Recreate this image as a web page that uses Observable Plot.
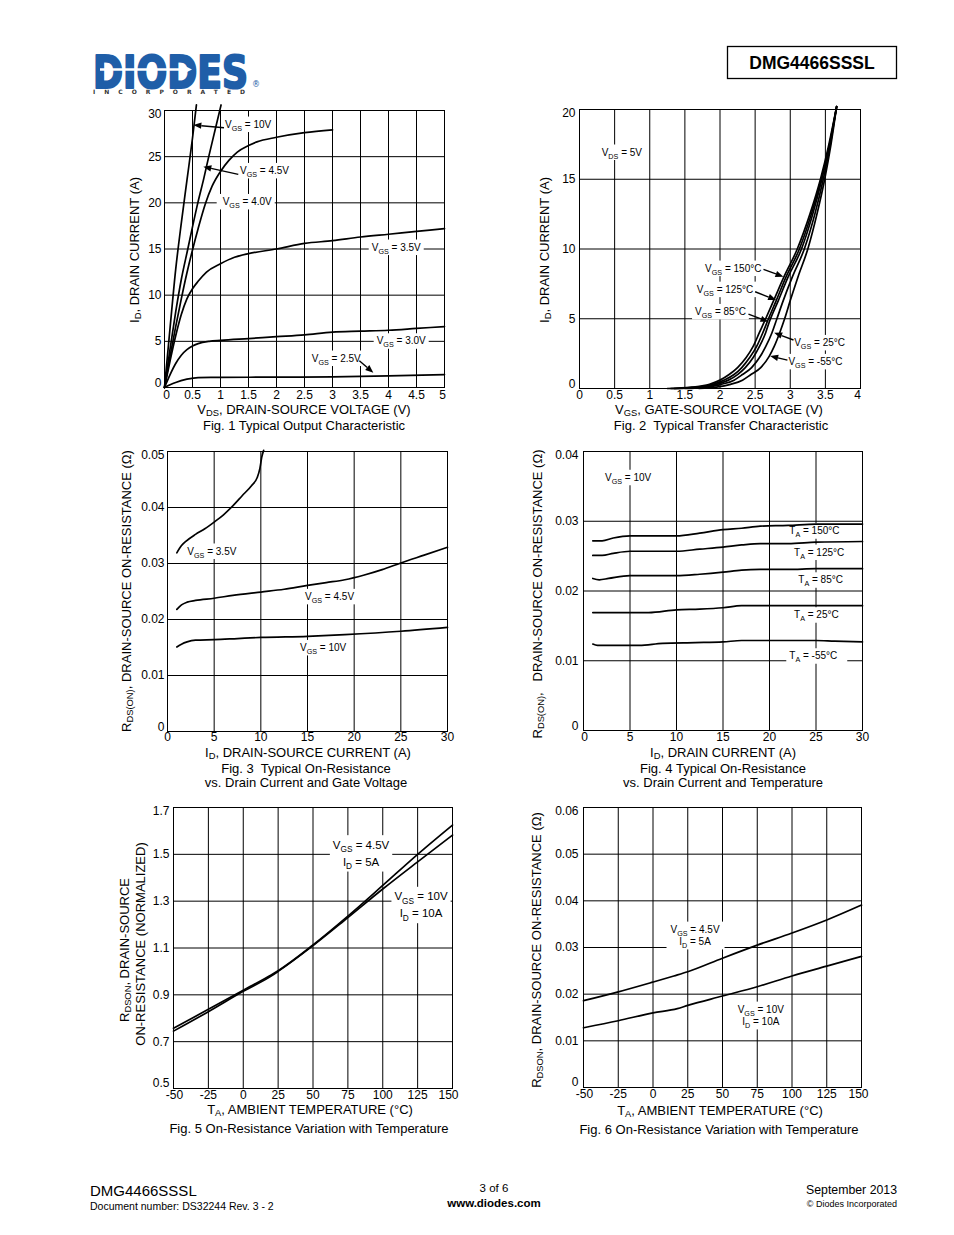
<!DOCTYPE html>
<html><head><meta charset="utf-8">
<script src="https://cdn.jsdelivr.net/npm/d3@7"></script>
<script src="https://cdn.jsdelivr.net/npm/@observablehq/plot@0.6"></script>
<style>
body{margin:0;background:#fff;}
#page{position:relative;width:954px;height:1235px;font-family:"Liberation Sans",Arial,Helvetica,sans-serif;color:#000;overflow:hidden;background:#fff}
.t{position:absolute;white-space:nowrap;line-height:1}
.t sub{font-size:0.72em;vertical-align:-0.3em;line-height:0}
</style></head><body><div id="page">
<svg style="position:absolute;left:86px;top:30px" width="240" height="72">
  <text x="7" y="58" font-family="DejaVu Sans" font-weight="bold" font-size="45" fill="#1f5ea8" stroke="#1f5ea8" stroke-width="2.2" stroke-linejoin="round" textLength="155" lengthAdjust="spacingAndGlyphs">DIODES</text>
  <line x1="14" y1="39.5" x2="98" y2="39.5" stroke="#fff" stroke-width="2.4"/>
  <path d="M98,35.5 L106,39.5 L98,43.5 Z" fill="#fff"/>
  <text x="7" y="64" font-family="DejaVu Sans" font-weight="bold" font-size="6" fill="#333" textLength="152" lengthAdjust="spacing">INCORPORATED</text>
  <text x="166" y="57" font-family="DejaVu Sans" font-size="8" fill="#1f5ea8">®</text>
</svg>
<svg style="position:absolute;left:726px;top:45px" width="172" height="35">
  <rect x="1.5" y="1.5" width="169" height="32" fill="#fff" stroke="#000" stroke-width="1.3"/>
  <text x="86" y="23.5" text-anchor="middle" font-family="Liberation Sans, Arial" font-weight="bold" font-size="17.5">DMG4466SSSL</text>
</svg>
</div>
<script>
// ---------------- DATA ----------------
// Fig. 1  Typical Output Characteristic  [VDS (V), ID (A)]
const f1_xTicks = [0,0.5,1,1.5,2,2.5,3,3.5,4,4.5,5];
const f1_yTicks = [0,5,10,15,20,25,30];
const f1_vgs10 = [[0,0],[0.1,6.5],[0.2,12.8],[0.3,17.8],[0.4,22.4],[0.5,27],[0.57,30.6]];
const f1_vgs45 = [[0,0],[0.1,4.2],[0.2,8.2],[0.3,11.7],[0.416,15],[0.5,17.4],[0.595,20],[0.7,22.6],[0.79,25],[0.9,27.8],[1.01,30.6]];
const f1_vgs40 = [[0,0],[0.1,3.4],[0.2,6.6],[0.3,9.6],[0.4,12.4],[0.5,14.9],[0.6,17.2],[0.73,19.9],[0.85,21.8],[1.0,23.4],[1.15,24.6],[1.3,25.5],[1.5,26.2],[1.65,26.6],[2.0,27.1],[2.5,27.6],[3.0,27.9]];
const f1_vgs35 = [[0,0],[0.1,2.9],[0.2,5.6],[0.3,7.9],[0.4,9.6],[0.5,10.7],[0.6,11.5],[0.75,12.5],[1.0,13.4],[1.25,14.1],[1.5,14.5],[2,15.0],[2.5,15.6],[3,15.9],[3.5,16.3],[4,16.6],[4.5,16.9],[5,17.2]];
const f1_vgs30 = [[0,0],[0.1,1.4],[0.2,2.6],[0.3,3.5],[0.4,4.1],[0.5,4.5],[0.6,4.75],[0.8,5.0],[1,5.1],[1.5,5.3],[2,5.5],[2.5,5.7],[3,6.0],[3.5,6.1],[4,6.2],[4.5,6.4],[5,6.6]];
const f1_vgs25 = [[0,0],[0.1,0.3],[0.2,0.55],[0.4,0.9],[0.6,1.08],[1,1.1],[2,1.12],[3,1.15],[4,1.25],[5,1.4]];

// Fig. 2  Typical Transfer Characteristic  [VGS (V), ID (A)]
const f2_xTicks = [0,0.5,1,1.5,2,2.5,3,3.5,4];
const f2_yTicks = [0,5,10,15,20];
const f2_t150 = [[1.25,0],[1.6,0.1],[1.85,0.3],[2.0,0.6],[2.13,1.0],[2.25,1.5],[2.37,2.2],[2.47,3.0],[2.56,4.0],[2.65,5.0],[2.78,6.5],[2.91,8.0],[3.1,10],[3.28,12.5],[3.43,15],[3.55,17.5],[3.66,20.2]];
const f2_t125 = [[1.3,0],[1.65,0.1],[1.9,0.3],[2.06,0.6],[2.2,1.0],[2.31,1.5],[2.42,2.2],[2.52,3.0],[2.61,4.0],[2.69,5.0],[2.8,6.3],[2.94,8],[3.13,10],[3.3,12.5],[3.44,15],[3.56,17.5],[3.66,20.2]];
const f2_t85 = [[1.35,0],[1.7,0.1],[1.95,0.3],[2.12,0.6],[2.25,1.0],[2.36,1.5],[2.47,2.2],[2.56,3.0],[2.65,4.0],[2.7,4.75],[2.83,6.3],[2.97,8],[3.16,10],[3.32,12.5],[3.45,15],[3.56,17.5],[3.66,20.2]];
const f2_t25 = [[1.5,0],[1.8,0.1],[2.02,0.3],[2.2,0.6],[2.32,1.0],[2.45,1.5],[2.56,2.2],[2.65,3.0],[2.74,4.0],[2.81,5],[2.9,6.3],[3.03,8],[3.2,10],[3.35,12.5],[3.47,15],[3.57,17.5],[3.66,20.2]];
const f2_tm55 = [[1.7,0],[1.95,0.1],[2.15,0.3],[2.32,0.6],[2.44,1.0],[2.58,1.5],[2.7,2.3],[2.77,3.0],[2.85,4.0],[2.92,5],[3.0,6.3],[3.11,8],[3.25,10],[3.38,12.5],[3.49,15],[3.58,17.5],[3.66,20.2]];

// Fig. 3  On-Resistance vs Drain Current and Gate Voltage  [ID (A), RDS(ON) (ohm)]
const f3_xTicks = [0,5,10,15,20,25,30];
const f3_yTicks = [0,0.01,0.02,0.03,0.04,0.05];
const f3_vgs35 = [[1,0.0319],[1.5,0.0332],[2,0.034],[3,0.0352],[4,0.0362],[5,0.0374],[6,0.0387],[7,0.0403],[8,0.0421],[9,0.0439],[9.6,0.0453],[9.9,0.047],[10.1,0.049],[10.3,0.0502]];
const f3_vgs45 = [[1,0.0218],[1.5,0.0226],[2.1,0.0231],[3,0.0234],[5,0.0238],[7,0.0243],[10,0.0249],[12.5,0.0254],[15,0.0261],[17,0.0266],[19,0.0271],[21,0.0279],[23,0.0289],[25,0.0301],[27.5,0.0315],[30,0.0329]];
const f3_vgs10 = [[1,0.0151],[1.5,0.0156],[2.1,0.016],[3,0.0163],[5,0.0164],[7.5,0.0166],[10,0.0168],[15,0.017],[19,0.0173],[25,0.0179],[30,0.0186]];

// Fig. 4  On-Resistance vs Drain Current and Temperature  [ID (A), RDS(ON) (ohm)]
const f4_xTicks = [0,5,10,15,20,25,30];
const f4_yTicks = [0,0.01,0.02,0.03,0.04];
const f4_t150 = [[1,0.0272],[2,0.0272],[3.2,0.0276],[5,0.0279],[7,0.0279],[10,0.0279],[12.5,0.0283],[15,0.0288],[17,0.029],[19,0.0293],[22,0.0294],[25,0.0296],[30,0.0296]];
const f4_t125 = [[1,0.0251],[2,0.0251],[3.2,0.0254],[5,0.0257],[10,0.0257],[12.5,0.026],[15,0.0263],[17,0.0266],[19,0.0268],[22,0.0268],[25,0.027],[30,0.0271]];
const f4_t85 = [[1,0.0218],[1.7,0.0216],[2.7,0.0218],[5,0.0222],[10,0.0222],[12.5,0.0224],[15,0.0227],[17,0.023],[19,0.0231],[22,0.0231],[25,0.0232],[30,0.0232]];
const f4_t25 = [[1,0.0169],[5,0.0169],[7,0.0169],[10,0.0173],[12.5,0.0174],[15,0.0176],[17,0.0179],[20,0.0179],[25,0.0179],[30,0.0179]];
const f4_tm55 = [[1,0.0124],[1.5,0.0122],[3,0.0122],[6,0.0122],[8.5,0.0125],[12,0.0126],[15,0.0127],[17,0.0129],[20,0.0129],[25,0.0129],[27,0.0128],[30,0.0127]];

// Fig. 5  Normalized On-Resistance vs Temperature  [TA (°C), RDSON normalized]
const f5_xTicks = [-50,-25,0,25,50,75,100,125,150];
const f5_yTicks = [0.5,0.7,0.9,1.1,1.3,1.5,1.7];
const f5_vgs45 = [[-50,0.757],[-25,0.838],[0,0.92],[20,0.985],[25,1.003],[50,1.113],[75,1.236],[100,1.367],[125,1.5],[150,1.625]];
const f5_vgs10 = [[-50,0.745],[-25,0.828],[0,0.915],[20,0.98],[25,1.0],[50,1.11],[75,1.23],[100,1.352],[125,1.468],[150,1.582]];

// Fig. 6  On-Resistance vs Temperature  [TA (°C), RDSON (ohm)]
const f6_xTicks = [-50,-25,0,25,50,75,100,125,150];
const f6_yTicks = [0,0.01,0.02,0.03,0.04,0.05,0.06];
const f6_vgs45 = [[-50,0.0186],[-25,0.0205],[0,0.0226],[15,0.0239],[25,0.0248],[50,0.0277],[75,0.0305],[100,0.0331],[125,0.0359],[150,0.0391]];
const f6_vgs10 = [[-50,0.0128],[-25,0.0143],[0,0.016],[17.5,0.0169],[25,0.0176],[50,0.0196],[75,0.0216],[100,0.0239],[125,0.026],[150,0.0281]];

// ---------------- HELPERS ----------------
const FONT = '"Liberation Sans", Arial, Helvetica, sans-serif';
const page = document.getElementById("page");
const ctx = document.createElement("canvas").getContext("2d");
function measure(t, size){ ctx.font = `${size}px "Liberation Sans", Arial`; return ctx.measureText(t).width; }
const S = (a, s, b) => [[a,0],[s,1],[b,0]];

function labelMark(labels){
  return (index, scales) => {
    const g = d3.create("svg:g").attr("text-anchor", "start");
    for (const L of labels){
      const fs = L.size || 10, ss = fs*0.72, lh = L.lh || fs*1.25;
      const padL = L.padL ?? 3, padR = L.padR ?? 3;
      const px = scales.x(L.x), py = scales.y(L.y);
      const widths = L.lines.map(runs => runs.reduce((w,[t,sb]) => w + measure(t, sb ? ss : fs), 0));
      const maxW = Math.max(...widths), n = L.lines.length;
      const top = py - n*lh/2;
      const left = L.anchor === "middle" ? px - maxW/2 : px;
      g.append("rect").attr("x", left - padL).attr("y", top - 1.5).attr("width", maxW + padL + padR).attr("height", n*lh + 3).attr("fill", "#fff");
      L.lines.forEach((runs, i) => {
        const lx = L.anchor === "middle" ? px - widths[i]/2 : px;
        const base = top + i*lh + lh/2 + fs*0.33;
        const t = g.append("text").attr("x", lx).attr("y", base).attr("font-size", fs).attr("fill", "#000").attr("text-anchor", "start").style("white-space","pre");
        let shifted = false;
        for (const [s, sb] of runs){
          const ts = t.append("tspan").text(s);
          if (sb && !shifted){ ts.attr("font-size", ss).attr("dy", fs*0.3); shifted = true; }
          else if (!sb && shifted){ ts.attr("dy", -fs*0.3); shifted = false; }
        }
      });
    }
    return g.node();
  };
}
function arrowMark(arrows){
  return (index, scales) => {
    const g = d3.create("svg:g");
    for (const a of arrows){
      const x1 = scales.x(a.x1), y1 = scales.y(a.y1), x2 = scales.x(a.x2), y2 = scales.y(a.y2);
      const ang = Math.atan2(y2-y1, x2-x1), hl = 8, hw = 3.2;
      const bx = x2 - hl*Math.cos(ang), by = y2 - hl*Math.sin(ang);
      g.append("line").attr("x1",x1).attr("y1",y1).attr("x2",bx).attr("y2",by).attr("stroke","#000").attr("stroke-width",1.4);
      g.append("path").attr("d", `M${x2},${y2}L${bx + hw*Math.sin(ang)},${by - hw*Math.cos(ang)}L${bx - hw*Math.sin(ang)},${by + hw*Math.cos(ang)}Z`).attr("fill","#000");
    }
    return g.node();
  };
}
const fmt = d => String(d);

function chart(c){
  const mL = 50, mR = 20, mT = 12, mB = 24;
  const xt = c.xTicks, yt = c.yTicks;
  const ax = {tickSize: 0, tickPadding: c.xPad, tickFormat: fmt, fontSize: 12, label: null};
  const ay = {tickSize: 0, tickPadding: c.yPad, tickFormat: fmt, fontSize: 12, label: null};
  const svg = Plot.plot({
    width: (c.R - c.L) + mL + mR, height: (c.B - c.T) + mT + mB,
    marginLeft: mL, marginRight: mR, marginTop: mT, marginBottom: mB,
    style: {fontFamily: FONT, fontSize: "12px", background: "transparent", color: "#000", overflow: "visible"},
    x: {domain: c.xDomain}, y: {domain: c.yDomain},
    marks: [
      Plot.gridX(xt, {stroke: "#000", strokeOpacity: 1, strokeWidth: 1}),
      Plot.gridY(yt, {stroke: "#000", strokeOpacity: 1, strokeWidth: 1}),
      labelMark(c.labels),
      ...c.series.map(s => Plot.line(s, {x: d => d[0], y: d => d[1], stroke: "#000", strokeWidth: 1.7, curve: "monotone-x"})),
      arrowMark(c.arrows || []),
      Plot.frame({stroke: "#000", strokeWidth: 1}),
      Plot.axisX(xt.slice(1, -1), ax),
      Plot.axisX([xt[0]], {...ax, dx: c.x0dx ?? 1}),
      Plot.axisX([xt[xt.length-1]], {...ax, dx: c.x1dx ?? -3}),
      Plot.axisY(yt.slice(1, -1), ay),
      Plot.axisY([yt[0]], {...ay, dy: c.y0dy ?? -4}),
      Plot.axisY([yt[yt.length-1]], {...ay, dy: 4})
    ]
  });
  svg.style.position = "absolute";
  svg.style.left = (c.L - mL) + "px";
  svg.style.top = (c.T - mT) + "px";
  page.appendChild(svg);
}
function txt(html, x, y, o = {}){
  const d = document.createElement("div");
  d.className = "t";
  d.innerHTML = html;
  d.style.left = x + "px"; d.style.top = y + "px";
  d.style.fontSize = (o.size || 13) + "px";
  if (o.bold) d.style.fontWeight = "bold";
  const ax = o.anchor === "start" ? "0" : o.anchor === "end" ? "-100%" : "-50%";
  d.style.transform = o.rotate ? "translate(-50%,-50%) rotate(-90deg)" : `translate(${ax},-50%)`;
  page.appendChild(d);
  return d;
}

// ---------------- CHARTS ----------------
chart({L:164, R:444, T:110, B:387, xDomain:[0,5], yDomain:[0,30], xTicks:f1_xTicks, yTicks:f1_yTicks, xPad:3, yPad:3, x0dx:2, x1dx:-2,
  series:[f1_vgs10, f1_vgs45, f1_vgs40, f1_vgs35, f1_vgs30, f1_vgs25],
  labels:[
    {x:1.09, y:28.45, lines:[S("V","GS"," = 10V")]},
    {x:1.357, y:23.43, lines:[S("V","GS"," = 4.5V")]},
    {x:1.048, y:20.07, lines:[S("V","GS"," = 4.0V")], padL:6},
    {x:3.709, y:15.13, lines:[S("V","GS"," = 3.5V")]},
    {x:3.798, y:4.98, lines:[S("V","GS"," = 3.0V")]},
    {x:2.638, y:3.11, lines:[S("V","GS"," = 2.5V")]}
  ],
  arrows:[{x1:1.071,y1:28.08,x2:0.524,y2:28.38},{x1:1.327,y1:23.03,x2:0.702,y2:23.86},{x1:3.488,y1:2.85,x2:3.738,y2:1.55}]
});
chart({L:579, R:860, T:109, B:388, xDomain:[0,4], yDomain:[0,20], xTicks:f2_xTicks, yTicks:f2_yTicks, xPad:2, yPad:4, x0dx:0, x1dx:-3,
  series:[f2_t150, f2_t125, f2_t85, f2_t25, f2_tm55],
  labels:[
    {x:0.323, y:16.9, lines:[S("V","DS"," = 5V")]},
    {x:1.795, y:8.58, lines:[S("V","GS"," = 150°C")]},
    {x:1.677, y:7.07, lines:[S("V","GS"," = 125°C")]},
    {x:1.652, y:5.47, lines:[S("V","GS"," = 85°C")]},
    {x:3.063, y:3.25, lines:[S("V","GS"," = 25°C")]},
    {x:2.981, y:1.89, lines:[S("V","GS"," = -55°C")]}
  ],
  arrows:[{x1:2.626,y1:8.51,x2:2.91,y2:7.98},{x1:2.507,y1:6.9,x2:2.806,y2:6.31},{x1:2.412,y1:5.3,x2:2.697,y2:4.75},{x1:3.053,y1:3.44,x2:2.778,y2:3.96},{x1:2.967,y1:2.0,x2:2.721,y2:2.29}]
});
chart({L:167, R:447, T:451, B:731, xDomain:[0,30], yDomain:[0,0.05], xTicks:f3_xTicks, yTicks:f3_yTicks, xPad:1, yPad:3, x0dx:0, x1dx:0,
  series:[f3_vgs35, f3_vgs45, f3_vgs10],
  labels:[
    {x:2.18, y:0.0321, lines:[S("V","GS"," = 3.5V")]},
    {x:14.79, y:0.024, lines:[S("V","GS"," = 4.5V")]},
    {x:14.25, y:0.01488, lines:[S("V","GS"," = 10V")]}
  ]
});
chart({L:583, R:862, T:451, B:730, xDomain:[0,30], yDomain:[0,0.04], xTicks:f4_xTicks, yTicks:f4_yTicks, xPad:2, yPad:5, x0dx:1, x1dx:0,
  series:[f4_t150, f4_t125, f4_t85, f4_t25, f4_tm55],
  labels:[
    {x:2.37, y:0.0362, lines:[S("V","GS"," = 10V")]},
    {x:22.18, y:0.02853, lines:[S("T","A"," = 150°C")]},
    {x:22.69, y:0.02548, lines:[S("T","A"," = 125°C")]},
    {x:23.15, y:0.0215, lines:[S("T","A"," = 85°C")]},
    {x:22.69, y:0.01649, lines:[S("T","A"," = 25°C")]},
    {x:22.18, y:0.01061, lines:[S("T","A"," = -55°C")], padR:10}
  ]
});
chart({L:173, R:452, T:807, B:1088, xDomain:[-50,150], yDomain:[0.5,1.7], xTicks:f5_xTicks, yTicks:f5_yTicks, xPad:2, yPad:4, x0dx:1, x1dx:-4, y0dy:-5,
  series:[f5_vgs45, f5_vgs10],
  labels:[
    {x:84.8, y:1.502, anchor:"middle", size:11.5, lh:16.7, lines:[S("V","GS"," = 4.5V"), S("I","D"," = 5A")]},
    {x:127.8, y:1.2815, anchor:"middle", size:11.5, lh:16.7, lines:[S("V","GS"," = 10V"), S("I","D"," = 10A")]}
  ]
});
chart({L:583, R:861, T:807, B:1087, xDomain:[-50,150], yDomain:[0,0.06], xTicks:f6_xTicks, yTicks:f6_yTicks, xPad:2, yPad:5, x0dx:1, x1dx:-3, y0dy:-5,
  series:[f6_vgs45, f6_vgs10],
  labels:[
    {x:30.6, y:0.03246, anchor:"middle", lh:12.4, padL:4, padR:5, lines:[S("V","GS"," = 4.5V"), S("I","D"," = 5A")]},
    {x:77.9, y:0.01532, anchor:"middle", lh:12.4, lines:[S("V","GS"," = 10V"), S("I","D"," = 10A")]}
  ]
});

// ---------------- AXIS TITLES & CAPTIONS ----------------
txt("V<sub>DS</sub>, DRAIN-SOURCE VOLTAGE (V)", 304, 409);
txt("Fig. 1 Typical Output Characteristic", 304, 425);
txt("I<sub>D</sub>, DRAIN CURRENT (A)", 134, 250, {rotate:true});

txt("V<sub>GS</sub>, GATE-SOURCE VOLTAGE (V)", 719, 409);
txt("Fig. 2&nbsp; Typical Transfer Characteristic", 721, 425);
txt("I<sub>D</sub>, DRAIN CURRENT (A)", 544, 250, {rotate:true});

txt("I<sub>D</sub>, DRAIN-SOURCE CURRENT (A)", 308, 752);
txt("Fig. 3&nbsp; Typical On-Resistance", 306, 768);
txt("vs. Drain Current and Gate Voltage", 306, 782);
txt("R<sub>DS(ON)</sub>, DRAIN-SOURCE ON-RESISTANCE (Ω)", 126, 591, {rotate:true});

txt("I<sub>D</sub>, DRAIN CURRENT (A)", 723, 752);
txt("Fig. 4 Typical On-Resistance", 723, 768);
txt("vs. Drain Current and Temperature", 723, 782);
txt("R<sub>DS(ON)</sub>,&nbsp;&nbsp; DRAIN-SOURCE ON-RESISTANCE (Ω)", 537, 594, {rotate:true});

txt("T<sub>A</sub>, AMBIENT TEMPERATURE (°C)", 310, 1109);
txt("Fig. 5 On-Resistance Variation with Temperature", 309, 1128);
txt("R<sub>DSON</sub>, DRAIN-SOURCE", 124, 950, {rotate:true});
txt("ON-RESISTANCE (NORMALIZED)", 140, 944, {rotate:true});

txt("T<sub>A</sub>, AMBIENT TEMPERATURE (°C)", 720, 1110);
txt("Fig. 6 On-Resistance Variation with Temperature", 719, 1129);
txt("R<sub>DSON</sub>, DRAIN-SOURCE ON-RESISTANCE (Ω)", 536, 950, {rotate:true});

// ---------------- FOOTER ----------------
txt("DMG4466SSSL", 90, 1190, {anchor:"start", size:15});
txt("Document number: DS32244 Rev. 3 - 2", 90, 1206, {anchor:"start", size:10.5});
txt("3 of 6", 494, 1189, {size:11.5});
txt("www.diodes.com", 494, 1204, {size:11.5, bold:true});
txt("September 2013", 897, 1190, {anchor:"end", size:12.3});
txt("© Diodes Incorporated", 897, 1204, {anchor:"end", size:9});
</script>
</body></html>
